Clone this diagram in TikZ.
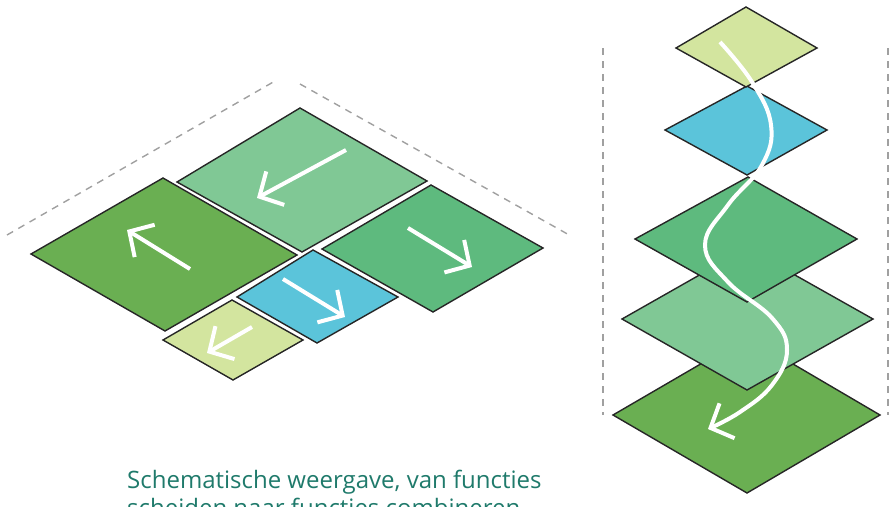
\documentclass[tikz,border=0pt]{standalone}
\usepackage{fontspec}
\setmainfont{Open Sans}
\usetikzlibrary{arrows.meta}
\definecolor{dkgreen}{HTML}{6AAF52}
\definecolor{ltgreen}{HTML}{80C895}
\definecolor{mdgreen}{HTML}{5EBA7E}
\definecolor{tblue}{HTML}{5BC4DA}
\definecolor{tyellow}{HTML}{D3E59F}
\definecolor{txtteal}{HTML}{1F7A6B}
\definecolor{dashgray}{HTML}{A0A0A0}
\tikzset{
  tile/.style={draw=black!85, line width=1.4pt, line join=miter},
  guide/.style={draw=dashgray, line width=1.4pt, dash pattern=on 7pt off 6pt},
  warrow/.style={draw=white, line width=4pt, -{Straight Barb[length=18pt,width=38pt]}},
  caption/.style={text=txtteal, font=\fontsize{24}{30}\selectfont, anchor=base west, inner sep=0pt}
}
\begin{document}
\begin{tikzpicture}[x=1pt,y=-1pt]
\useasboundingbox (0,0) rectangle (890,506);
\clip (0,0) rectangle (890,506);
% ---------- left: dashed guides ----------
\coordinate (g1a) at (7,235); \coordinate (g1b) at (275,81);
\coordinate (g2a) at (300,84); \coordinate (g2b) at (571,236);
\draw[guide] (g1a) -- (g1b);
\draw[guide] (g2a) -- (g2b);
% ---------- left tiles ----------
\draw[tile, fill=ltgreen] (177,182) -- (300,108) -- (427,181) -- (302,252) -- cycle;
\draw[tile, fill=dkgreen] (31,254) -- (163,178) -- (297,255) -- (165,331) -- cycle;
\draw[tile, fill=mdgreen] (322,249) -- (431,185) -- (543,248) -- (433,312) -- cycle;
\draw[tile, fill=tblue] (237,297) -- (313,250) -- (398,297) -- (317,343) -- cycle;
\draw[tile, fill=tyellow] (163,340) -- (232,300) -- (303,340) -- (233,380) -- cycle;
% ---------- left arrows ----------
\coordinate (a1s) at (190,269); \coordinate (a1e) at (127,230);
\coordinate (a2s) at (346,150); \coordinate (a2e) at (257,198);
\coordinate (a3s) at (408,228); \coordinate (a3e) at (472,267);
\coordinate (a4s) at (283,279); \coordinate (a4e) at (345,317);
\coordinate (a5s) at (252,327); \coordinate (a5e) at (207,353);
\draw[warrow] (a1s) -- (a1e);
\draw[warrow] (a2s) -- (a2e);
\draw[warrow] (a3s) -- (a3e);
\draw[warrow] (a4s) -- (a4e);
\draw[warrow] (a5s) -- (a5e);
% ---------- right: dashed guides ----------
\coordinate (v1a) at (603,48); \coordinate (v1b) at (603,415);
\coordinate (v2a) at (888,48); \coordinate (v2b) at (888,415);
\draw[guide] (v1a) -- (v1b);
\draw[guide] (v2a) -- (v2b);
% ---------- right stack (bottom to top) ----------
\draw[tile, fill=dkgreen] (613,415) -- (747,337) -- (880,415) -- (747,493) -- cycle;
\draw[tile, fill=ltgreen] (622,319) -- (747,248) -- (873,319) -- (747,390) -- cycle;
\draw[tile, fill=mdgreen] (635,239) -- (748,177) -- (857,239) -- (747,302) -- cycle;
\draw[tile, fill=tblue] (665,130) -- (747,86) -- (827,130) -- (747,175) -- cycle;
\draw[tile, fill=tyellow] (676,48) -- (746,7) -- (817,48) -- (746,87) -- cycle;
% ---------- S-curve arrow ----------
\draw[warrow] plot[smooth, tension=0.7] coordinates {(720,42) (752,82) (771,125) (762,165) (728,205) (705,245) (728,282) (772,318) (787,350) (772,385) (740,412) (708,429)};
% ---------- caption ----------
\node[caption] (cap1) at (127,488) {Schematische weergave, van functies};
\node[caption] (cap2) at (127,516) {scheiden naar functies combineren};
\end{tikzpicture}
\end{document}
